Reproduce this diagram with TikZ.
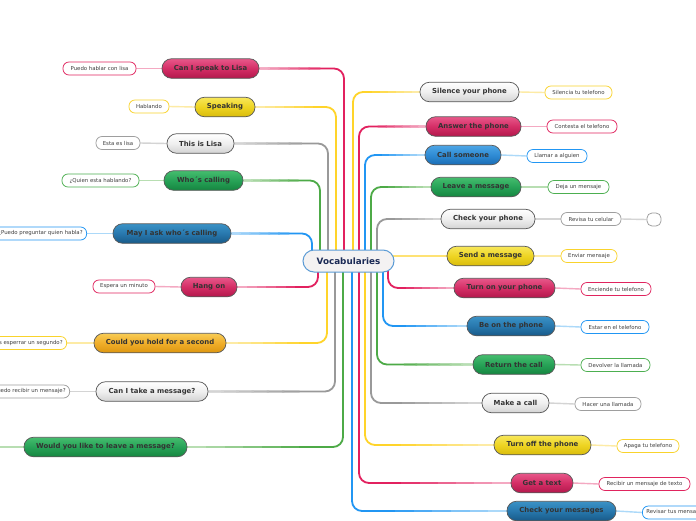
\documentclass[tikz,border=0pt]{standalone}
\usepackage{fontspec}
\setmainfont{DejaVu Sans}
\usetikzlibrary{calc}
\pgfdeclarelayer{bg}
\pgfsetlayers{bg,main}
% node shadings
\definecolor{pkT}{HTML}{E8588A}\definecolor{pkM}{HTML}{D42E66}\definecolor{pkB}{HTML}{B3184C}
\definecolor{yeT}{HTML}{F8E85A}\definecolor{yeM}{HTML}{EED422}\definecolor{yeB}{HTML}{D9BC0C}
\definecolor{grT}{HTML}{FFFFFF}\definecolor{grM}{HTML}{EFEFEF}\definecolor{grB}{HTML}{D3D3D3}
\definecolor{gnT}{HTML}{45BD6E}\definecolor{gnM}{HTML}{27A257}\definecolor{gnB}{HTML}{158640}
\definecolor{baT}{HTML}{4DA6E6}\definecolor{baM}{HTML}{2F8BD4}\definecolor{baB}{HTML}{1A6DB5}
\definecolor{bbT}{HTML}{3A92C6}\definecolor{bbM}{HTML}{2878AE}\definecolor{bbB}{HTML}{185A88}
\definecolor{orT}{HTML}{F8CC55}\definecolor{orM}{HTML}{F0AE2A}\definecolor{orB}{HTML}{DD9610}
% lines
\definecolor{pkL}{HTML}{E2215F}\definecolor{pkP}{HTML}{F4A9C2}
\definecolor{yeL}{HTML}{FFD42A}\definecolor{yeP}{HTML}{FDEBA5}
\definecolor{grL}{HTML}{999999}\definecolor{grP}{HTML}{D4D4D4}
\definecolor{gnL}{HTML}{4DAA47}\definecolor{gnP}{HTML}{B8DEB2}
\definecolor{blL}{HTML}{2196F3}\definecolor{blP}{HTML}{ACD9F9}
% sub borders
\definecolor{pkS}{HTML}{E0245E}\definecolor{yeS}{HTML}{F9D32C}
\definecolor{grS}{HTML}{9E9E9E}\definecolor{gnS}{HTML}{4CAF50}
\definecolor{blS}{HTML}{2196F3}
% centre
\definecolor{cF}{HTML}{F4F2F2}\definecolor{cB}{HTML}{5B9BD5}\definecolor{cT}{HTML}{1B2A55}
\newcommand\mnf{\bfseries\fontsize{6.9}{8}\selectfont}
\newcommand\snf{\fontsize{5.4}{6.5}\selectfont}
\newcommand\cenf{\bfseries\fontsize{8.8}{10}\selectfont}
\newcommand\mmconn[4]{%
  \draw[trunk,draw=#1] (#3) |- (#4);
  \foreach \ga/\gb/\gm in {0.58/0.72/85,0.46/0.6/68,0.34/0.48/50,0.22/0.36/32,0.1/0.24/16,0/0.12/0}{%
    \draw[trunk,rounded corners=0pt,draw=#1!\gm!#2]
      ($(#4)!\ga!(#4 -| #3)$) -- ($(#4)!\gb!(#4 -| #3)$);}
}
\tikzset{
  mn/.style={draw=black!65, line width=0.75pt, rounded corners=9.5pt, minimum height=19.5pt,
    inner sep=0pt, font=\mnf, text=black!80},
  pkN/.style={top color=pkT, bottom color=pkB, middle color=pkM},
  yeN/.style={top color=yeT, bottom color=yeB, middle color=yeM},
  grN/.style={top color=grT, bottom color=grB, middle color=grM},
  gnN/.style={top color=gnT, bottom color=gnB, middle color=gnM},
  baN/.style={top color=baT, bottom color=baB, middle color=baM},
  bbN/.style={top color=bbT, bottom color=bbB, middle color=bbM},
  orN/.style={top color=orT, bottom color=orB, middle color=orM},
  sn/.style={fill=white, line width=0.75pt, rounded corners=6pt, minimum height=13pt,
    inner xsep=4pt, inner ysep=0pt, font=\snf, text=black!75},
  trunk/.style={line width=1.8pt, rounded corners=10pt},
  subl/.style={line width=1.4pt},
}
\begin{document}
\begin{tikzpicture}[x=1pt,y=-1pt]
\useasboundingbox (0,0) rectangle (696,520);
\clip (0,0) rectangle (696,520);

% centre
\node[draw=cB, fill=cF, line width=1pt, rounded corners=11pt, minimum width=91pt,
  minimum height=22pt, inner sep=0pt, font=\cenf, text=cT] (c) at (348.5,261) {Vocabularies};

% left main nodes
\node[mn,pkN,minimum width=97pt]  (l1) at (210.5,68.5) {Can I speak to Lisa};
\node[mn,yeN,minimum width=60pt]  (l2) at (225,107) {Speaking};
\node[mn,grN,minimum width=67pt]  (l3) at (200.5,143.5) {This is Lisa};
\node[mn,gnN,minimum width=79pt]  (l4) at (203.5,180.5) {Who´s calling};
\node[mn,bbN,minimum width=118pt] (l5) at (172,233.5) {May I ask who´s calling};
\node[mn,pkN,minimum width=56pt]  (l6) at (209,287) {Hang on};
\node[mn,orN,minimum width=132pt] (l7) at (160,343) {Could you hold for a second};
\node[mn,grN,minimum width=112pt] (l8) at (152,391.5) {Can I take a message?};
\node[mn,gnN,minimum width=163pt] (l9) at (105.5,447) {Would you like to leave a message?};

% right main nodes
\node[mn,grN,minimum width=99pt]  (r1) at (469.5,92) {Silence your phone};
\node[mn,pkN,minimum width=95pt]  (r2) at (473.5,126.5) {Answer the phone};
\node[mn,baN,minimum width=76pt]  (r3) at (463,155) {Call someone};
\node[mn,gnN,minimum width=90pt]  (r4) at (476,187) {Leave a message};
\node[mn,grN,minimum width=94pt]  (r5) at (488,219) {Check your phone};
\node[mn,yeN,minimum width=87pt]  (r6) at (490.5,256) {Send a message};
\node[mn,pkN,minimum width=101pt] (r7) at (504.5,288) {Turn on your phone};
\node[mn,bbN,minimum width=88pt]  (r8) at (511,326) {Be on the phone};
\node[mn,gnN,minimum width=82pt]  (r9) at (514,364.5) {Return the call};
\node[mn,grN,minimum width=67pt]  (r10) at (515.5,403) {Make a call};
\node[mn,yeN,minimum width=97pt]  (r11) at (542.5,445) {Turn off the phone};
\node[mn,pkN,minimum width=62pt]  (r12) at (542,483) {Get a text};
\node[mn,bbN,minimum width=109pt] (r13) at (561.5,511) {Check your messages};

% left sub nodes
\node[sn,draw=pkS,minimum width=73pt] (s1) at (99.5,68.5) {Puedo hablar con lisa};
\node[sn,draw=yeS,minimum width=40pt] (s2) at (149,106.5) {Hablando};
\node[sn,draw=grS,minimum width=44pt] (s3) at (118,143) {Esta es lisa};
\node[sn,draw=gnS,minimum width=77pt] (s4) at (100.5,180.5) {¿Quien esta hablando?};
\node[sn,draw=blS,anchor=east] (s5) at (87,233.5) {¿Puedo preguntar quien habla?};
\node[sn,draw=pkS,minimum width=62pt] (s6) at (124,286.5) {Espera un minuto};
\node[sn,draw=yeS,anchor=east] (s7) at (67,343) {¿Puedes esperrar un segundo?};
\node[sn,draw=grS,anchor=east] (s8) at (70,391.5) {¿Puedo recibir un mensaje?};
\coordinate (s9) at (0,447);

% right sub nodes
\node[sn,draw=yeS,minimum width=67pt] (q1) at (578.5,92.5) {Silencia tu telefono};
\node[sn,draw=pkS,minimum width=70pt] (q2) at (582,126.5) {Contesta el telefono};
\node[sn,draw=blS,minimum width=60pt] (q3) at (557,156) {Llamar a alguien};
\node[sn,draw=gnS,minimum width=61pt] (q4) at (578.5,187) {Deja un mensaje};
\node[sn,draw=grS,minimum width=60pt] (q5) at (591,219) {Revisa tu celular};
\node[sn,draw=grS,minimum width=14pt,inner xsep=0pt,rounded corners=5pt] (q5b) at (654,219.5) {};
\node[sn,draw=yeS,minimum width=56pt] (q6) at (589,256) {Enviar mensaje};
\node[sn,draw=pkS,minimum width=70pt] (q7) at (616,289) {Enciende tu telefono};
\node[sn,draw=blS,minimum width=68pt] (q8) at (615,327) {Estar en el telefono};
\node[sn,draw=gnS,minimum width=69pt] (q9) at (615.5,365) {Devolver la llamada};
\node[sn,draw=grS,minimum width=66pt] (q10) at (608,404) {Hacer una llamada};
\node[sn,draw=yeS,minimum width=62pt] (q11) at (648,446) {Apaga tu telefono};
\node[sn,draw=pkS,minimum width=91pt] (q12) at (644.5,484) {Recibir un mensaje de texto};
\node[sn,draw=blS,anchor=west] (q13) at (642,512.5) {Revisar tus mensajes};

% trunk start points on the centre node
\coordinate (tL1) at ([xshift=-4.5pt]c.center);
\coordinate (tL2) at ([xshift=-12.5pt]c.center);
\coordinate (tL3) at ([xshift=-20.5pt]c.center);
\coordinate (tL4) at ([xshift=-28.5pt]c.center);
\coordinate (tL5) at ([xshift=-36.5pt]c.center);
\coordinate (bL1) at ([xshift=-30.5pt]c.center);
\coordinate (bL2) at ([xshift=-21.5pt]c.center);
\coordinate (bL3) at ([xshift=-13.5pt]c.center);
\coordinate (bL4) at ([xshift=-5.5pt]c.center);
\coordinate (tR1) at ([xshift=4.5pt]c.center);
\coordinate (tR2) at ([xshift=10.5pt]c.center);
\coordinate (tR3) at ([xshift=16.5pt]c.center);
\coordinate (tR4) at ([xshift=22.5pt]c.center);
\coordinate (tR5) at ([xshift=28.5pt]c.center);
\coordinate (bR1) at ([xshift=3.5pt]c.center);
\coordinate (bR2) at ([xshift=10.5pt]c.center);
\coordinate (bR3) at ([xshift=16.5pt]c.center);
\coordinate (bR4) at ([xshift=22.5pt]c.center);
\coordinate (bR5) at ([xshift=28.5pt]c.center);
\coordinate (bR6) at ([xshift=34.5pt]c.center);
\coordinate (bR7) at ([xshift=39.5pt]c.center);

\begin{pgfonlayer}{bg}
\fill[white] (0,0) rectangle (696,520);
% left trunks
\mmconn{pkL}{pkP}{tL1}{l1.east}
\mmconn{yeL}{yeP}{tL2}{l2.east}
\mmconn{grL}{grP}{tL3}{l3.east}
\mmconn{gnL}{gnP}{tL4}{l4.east}
\mmconn{blL}{blP}{tL5}{l5.east}
\mmconn{pkL}{pkP}{bL1}{l6.east}
\mmconn{yeL}{yeP}{bL2}{l7.east}
\mmconn{grL}{grP}{bL3}{l8.east}
\mmconn{gnL}{gnP}{bL4}{l9.east}
% right trunks
\mmconn{yeL}{yeP}{tR1}{r1.west}
\mmconn{pkL}{pkP}{tR2}{r2.west}
\mmconn{blL}{blP}{tR3}{r3.west}
\mmconn{gnL}{gnP}{tR4}{r4.west}
\mmconn{grL}{grP}{tR5}{r5.west}
\draw[trunk,draw=yeL!40!yeP] (c.center |- r6.west) -- (r6.west);
\mmconn{pkL}{pkP}{bR7}{r7.west}
\mmconn{blL}{blP}{bR6}{r8.west}
\mmconn{gnL}{gnP}{bR5}{r9.west}
\mmconn{grL}{grP}{bR4}{r10.west}
\mmconn{yeL}{yeP}{bR3}{r11.west}
\mmconn{pkL}{pkP}{bR2}{r12.west}
\mmconn{blL}{blP}{bR1}{r13.west}
% sub connectors
\draw[subl,draw=pkP] (s1.east) -- (l1.west);
\draw[subl,draw=yeP] (s2.east) -- (l2.west);
\draw[subl,draw=grP] (s3.east) -- (l3.west);
\draw[subl,draw=gnP] (s4.east) -- (l4.west);
\draw[subl,draw=blP] (s5.east) -- (l5.west);
\draw[subl,draw=pkP] (s6.east) -- (l6.west);
\draw[subl,draw=yeP] (s7.east) -- (l7.west);
\draw[subl,draw=grP] (s8.east) -- (l8.west);
\draw[subl,draw=gnP] (s9) -- (l9.west);
\draw[subl,draw=yeP] (r1.east) -- (q1.west);
\draw[subl,draw=pkP] (r2.east) -- (q2.west);
\draw[subl,draw=blP] (r3.east) -- (q3.west);
\draw[subl,draw=gnP] (r4.east) -- (q4.west);
\draw[subl,draw=grP] (r5.east) -- (q5.west);
\draw[subl,draw=grP] (q5.east) -- (q5b.west);
\draw[subl,draw=yeP] (r6.east) -- (q6.west);
\draw[subl,draw=pkP] (r7.east) -- (q7.west);
\draw[subl,draw=blP] (r8.east) -- (q8.west);
\draw[subl,draw=gnP] (r9.east) -- (q9.west);
\draw[subl,draw=grP] (r10.east) -- (q10.west);
\draw[subl,draw=yeP] (r11.east) -- (q11.west);
\draw[subl,draw=pkP] (r12.east) -- (q12.west);
\draw[subl,draw=blP] (r13.east) -- (q13.west);
\end{pgfonlayer}
\end{tikzpicture}
\end{document}
